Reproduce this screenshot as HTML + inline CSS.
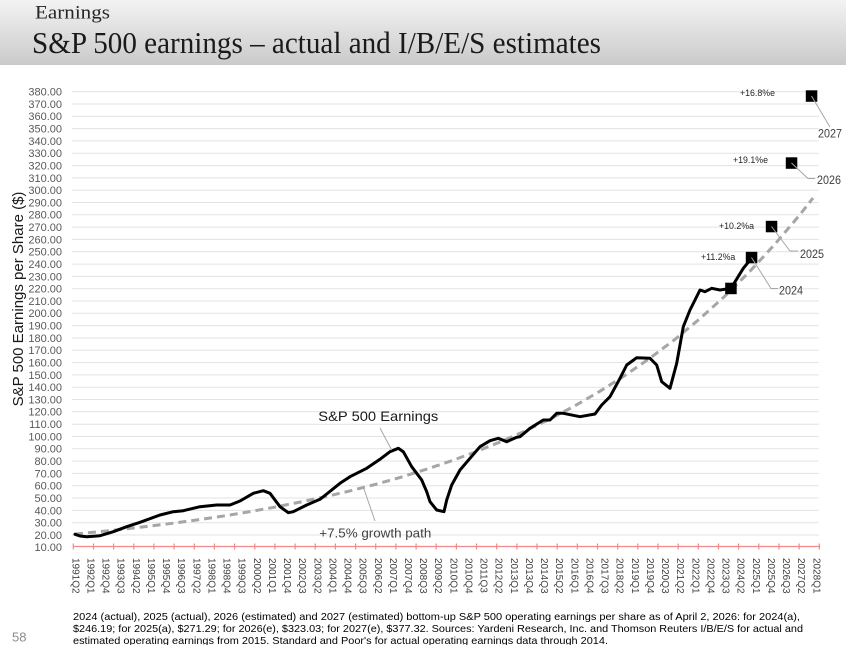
<!DOCTYPE html>
<html><head><meta charset="utf-8"><style>
html,body{margin:0;padding:0;background:#fff;}
svg{display:block;}
</style></head><body>
<svg width="846" height="645" viewBox="0 0 846 645" xmlns="http://www.w3.org/2000/svg">
<defs>
<linearGradient id="hg" x1="0" y1="0" x2="0" y2="1">
<stop offset="0" stop-color="#f3f3f3"/>
<stop offset="1" stop-color="#cacaca"/>
</linearGradient>
</defs>
<rect x="0" y="0" width="846" height="645" fill="#fff"/>
<rect x="0" y="0" width="846" height="65" fill="url(#hg)"/>
<text x="35" y="18.5" font-family="Liberation Serif, serif" font-size="19" fill="#262626" textLength="75" lengthAdjust="spacingAndGlyphs">Earnings</text>
<text x="32" y="53" font-family="Liberation Serif, serif" font-size="31" fill="#1a1a1a" textLength="569" lengthAdjust="spacingAndGlyphs">S&amp;P 500 earnings – actual and I/B/E/S estimates</text>

<!-- gridlines -->
<g stroke="#e3e3e3" stroke-width="1">
<line x1="72" x2="819" y1="535" y2="535"/>
<line x1="72" x2="819" y1="522.7" y2="522.7"/>
<line x1="72" x2="819" y1="510.4" y2="510.4"/>
<line x1="72" x2="819" y1="498" y2="498"/>
<line x1="72" x2="819" y1="485.7" y2="485.7"/>
<line x1="72" x2="819" y1="473.4" y2="473.4"/>
<line x1="72" x2="819" y1="461.1" y2="461.1"/>
<line x1="72" x2="819" y1="448.8" y2="448.8"/>
<line x1="72" x2="819" y1="436.5" y2="436.5"/>
<line x1="72" x2="819" y1="424.2" y2="424.2"/>
<line x1="72" x2="819" y1="411.8" y2="411.8"/>
<line x1="72" x2="819" y1="399.5" y2="399.5"/>
<line x1="72" x2="819" y1="387.2" y2="387.2"/>
<line x1="72" x2="819" y1="374.9" y2="374.9"/>
<line x1="72" x2="819" y1="362.6" y2="362.6"/>
<line x1="72" x2="819" y1="350.3" y2="350.3"/>
<line x1="72" x2="819" y1="338" y2="338"/>
<line x1="72" x2="819" y1="325.6" y2="325.6"/>
<line x1="72" x2="819" y1="313.3" y2="313.3"/>
<line x1="72" x2="819" y1="301" y2="301"/>
<line x1="72" x2="819" y1="288.7" y2="288.7"/>
<line x1="72" x2="819" y1="276.4" y2="276.4"/>
<line x1="72" x2="819" y1="264.1" y2="264.1"/>
<line x1="72" x2="819" y1="251.8" y2="251.8"/>
<line x1="72" x2="819" y1="239.4" y2="239.4"/>
<line x1="72" x2="819" y1="227.1" y2="227.1"/>
<line x1="72" x2="819" y1="214.8" y2="214.8"/>
<line x1="72" x2="819" y1="202.5" y2="202.5"/>
<line x1="72" x2="819" y1="190.2" y2="190.2"/>
<line x1="72" x2="819" y1="177.9" y2="177.9"/>
<line x1="72" x2="819" y1="165.6" y2="165.6"/>
<line x1="72" x2="819" y1="153.2" y2="153.2"/>
<line x1="72" x2="819" y1="140.9" y2="140.9"/>
<line x1="72" x2="819" y1="128.6" y2="128.6"/>
<line x1="72" x2="819" y1="116.3" y2="116.3"/>
<line x1="72" x2="819" y1="104" y2="104"/>
<line x1="72" x2="819" y1="91.7" y2="91.7"/>
</g>

<!-- y tick labels -->
<g font-family="Liberation Sans, sans-serif" font-size="11" fill="#595959" text-anchor="end">
<text x="62" y="551.2">10.00</text>
<text x="62" y="538.9">20.00</text>
<text x="62" y="526.6">30.00</text>
<text x="62" y="514.3">40.00</text>
<text x="62" y="501.9">50.00</text>
<text x="62" y="489.6">60.00</text>
<text x="62" y="477.3">70.00</text>
<text x="62" y="465">80.00</text>
<text x="62" y="452.7">90.00</text>
<text x="62" y="440.4">100.00</text>
<text x="62" y="428.1">110.00</text>
<text x="62" y="415.7">120.00</text>
<text x="62" y="403.4">130.00</text>
<text x="62" y="391.1">140.00</text>
<text x="62" y="378.8">150.00</text>
<text x="62" y="366.5">160.00</text>
<text x="62" y="354.2">170.00</text>
<text x="62" y="341.9">180.00</text>
<text x="62" y="329.5">190.00</text>
<text x="62" y="317.2">200.00</text>
<text x="62" y="304.9">210.00</text>
<text x="62" y="292.6">220.00</text>
<text x="62" y="280.3">230.00</text>
<text x="62" y="268">240.00</text>
<text x="62" y="255.7">250.00</text>
<text x="62" y="243.3">260.00</text>
<text x="62" y="231">270.00</text>
<text x="62" y="218.7">280.00</text>
<text x="62" y="206.4">290.00</text>
<text x="62" y="194.1">300.00</text>
<text x="62" y="181.8">310.00</text>
<text x="62" y="169.5">320.00</text>
<text x="62" y="157.1">330.00</text>
<text x="62" y="144.8">340.00</text>
<text x="62" y="132.5">350.00</text>
<text x="62" y="120.2">360.00</text>
<text x="62" y="107.9">370.00</text>
<text x="62" y="95.6">380.00</text>
</g>

<!-- y axis title -->
<text transform="translate(23,299) rotate(-90)" x="0" y="0" text-anchor="middle" font-family="Liberation Sans, sans-serif" font-size="15" fill="#1a1a1a">S&amp;P 500 Earnings per Share  ($)</text>

<!-- x axis -->
<line x1="73" x2="820" y1="546.5" y2="546.5" stroke="#f08a8a" stroke-width="1.3"/>
<path stroke="#f08a8a" stroke-width="1.2" fill="none" d="M73.3,543.5v6M93.5,543.5v6M113.6,543.5v6M133.8,543.5v6M153.9,543.5v6M174.1,543.5v6M194.3,543.5v6M214.4,543.5v6M234.6,543.5v6M254.8,543.5v6M274.9,543.5v6M295.1,543.5v6M315.2,543.5v6M335.4,543.5v6M355.6,543.5v6M375.7,543.5v6M395.9,543.5v6M416.1,543.5v6M436.2,543.5v6M456.4,543.5v6M476.5,543.5v6M496.7,543.5v6M516.9,543.5v6M537,543.5v6M557.2,543.5v6M577.3,543.5v6M597.5,543.5v6M617.7,543.5v6M637.8,543.5v6M658,543.5v6M678.2,543.5v6M698.3,543.5v6M718.5,543.5v6M738.6,543.5v6M758.8,543.5v6M779,543.5v6M799.1,543.5v6M819.3,543.5v6"/>

<!-- x labels -->
<g font-family="Liberation Sans, sans-serif" font-size="10" fill="#404040">
<text transform="translate(75.8,558) rotate(90)" dy="0.35em">1991Q2</text>
<text transform="translate(90.9,558) rotate(90)" dy="0.35em">1992Q1</text>
<text transform="translate(106.1,558) rotate(90)" dy="0.35em">1992Q4</text>
<text transform="translate(121.2,558) rotate(90)" dy="0.35em">1993Q3</text>
<text transform="translate(136.3,558) rotate(90)" dy="0.35em">1994Q2</text>
<text transform="translate(151.4,558) rotate(90)" dy="0.35em">1995Q1</text>
<text transform="translate(166.5,558) rotate(90)" dy="0.35em">1995Q4</text>
<text transform="translate(181.7,558) rotate(90)" dy="0.35em">1996Q3</text>
<text transform="translate(196.8,558) rotate(90)" dy="0.35em">1997Q2</text>
<text transform="translate(211.9,558) rotate(90)" dy="0.35em">1998Q1</text>
<text transform="translate(227,558) rotate(90)" dy="0.35em">1998Q4</text>
<text transform="translate(242.2,558) rotate(90)" dy="0.35em">1999Q3</text>
<text transform="translate(257.3,558) rotate(90)" dy="0.35em">2000Q2</text>
<text transform="translate(272.4,558) rotate(90)" dy="0.35em">2001Q1</text>
<text transform="translate(287.5,558) rotate(90)" dy="0.35em">2001Q4</text>
<text transform="translate(302.6,558) rotate(90)" dy="0.35em">2002Q3</text>
<text transform="translate(317.8,558) rotate(90)" dy="0.35em">2003Q2</text>
<text transform="translate(332.9,558) rotate(90)" dy="0.35em">2004Q1</text>
<text transform="translate(348,558) rotate(90)" dy="0.35em">2004Q4</text>
<text transform="translate(363.1,558) rotate(90)" dy="0.35em">2005Q3</text>
<text transform="translate(378.3,558) rotate(90)" dy="0.35em">2006Q2</text>
<text transform="translate(393.4,558) rotate(90)" dy="0.35em">2007Q1</text>
<text transform="translate(408.5,558) rotate(90)" dy="0.35em">2007Q4</text>
<text transform="translate(423.6,558) rotate(90)" dy="0.35em">2008Q3</text>
<text transform="translate(438.7,558) rotate(90)" dy="0.35em">2009Q2</text>
<text transform="translate(453.9,558) rotate(90)" dy="0.35em">2010Q1</text>
<text transform="translate(469,558) rotate(90)" dy="0.35em">2010Q4</text>
<text transform="translate(484.1,558) rotate(90)" dy="0.35em">2011Q3</text>
<text transform="translate(499.2,558) rotate(90)" dy="0.35em">2012Q2</text>
<text transform="translate(514.4,558) rotate(90)" dy="0.35em">2013Q1</text>
<text transform="translate(529.5,558) rotate(90)" dy="0.35em">2013Q4</text>
<text transform="translate(544.6,558) rotate(90)" dy="0.35em">2014Q3</text>
<text transform="translate(559.7,558) rotate(90)" dy="0.35em">2015Q2</text>
<text transform="translate(574.8,558) rotate(90)" dy="0.35em">2016Q1</text>
<text transform="translate(590,558) rotate(90)" dy="0.35em">2016Q4</text>
<text transform="translate(605.1,558) rotate(90)" dy="0.35em">2017Q3</text>
<text transform="translate(620.2,558) rotate(90)" dy="0.35em">2018Q2</text>
<text transform="translate(635.3,558) rotate(90)" dy="0.35em">2019Q1</text>
<text transform="translate(650.5,558) rotate(90)" dy="0.35em">2019Q4</text>
<text transform="translate(665.6,558) rotate(90)" dy="0.35em">2020Q3</text>
<text transform="translate(680.7,558) rotate(90)" dy="0.35em">2021Q2</text>
<text transform="translate(695.8,558) rotate(90)" dy="0.35em">2022Q1</text>
<text transform="translate(710.9,558) rotate(90)" dy="0.35em">2022Q4</text>
<text transform="translate(726.1,558) rotate(90)" dy="0.35em">2023Q3</text>
<text transform="translate(741.2,558) rotate(90)" dy="0.35em">2024Q2</text>
<text transform="translate(756.3,558) rotate(90)" dy="0.35em">2025Q1</text>
<text transform="translate(771.4,558) rotate(90)" dy="0.35em">2025Q4</text>
<text transform="translate(786.6,558) rotate(90)" dy="0.35em">2026Q3</text>
<text transform="translate(801.7,558) rotate(90)" dy="0.35em">2027Q2</text>
<text transform="translate(816.8,558) rotate(90)" dy="0.35em">2028Q1</text>
</g>

<!-- growth path dashed -->
<polyline fill="none" stroke="#a6a6a6" stroke-width="3" stroke-dasharray="8,5" points="75,534 100,531.6 125,529 150,526.1 175,523 200,519.5 225,515.8 250,511.6 275,507.1 300,502.1 325,496.8 350,490.9 375,484.5 400,477.5 425,469.7 450,461.3 475,452.1 500,442 525,431 550,419 575,405.7 600,391.2 625,375.4 650,358.1 675,339.3 700,318.6 725,296 750,271.2 775,244.1 800,214.6 813,198"/>

<!-- earnings line -->
<polyline fill="none" stroke="#000" stroke-width="3" stroke-linejoin="round" stroke-linecap="round" points="75,534.3 80,536 86.7,536.7 100,535.7 113.3,531.7 126.7,526.7 140,522.3 160,515 173.3,511.7 183.3,510.7 200,506.7 216.7,505 230,505 240,501 253.3,493.3 263.3,490.7 270,493.3 280,506.7 288.3,512.7 293.3,511.7 306.7,505 320,499.3 326.7,494 340,483.3 350,476.7 366.7,468.3 380,459.3 390,451.7 398.3,448.3 403.3,451.7 411.7,466.7 421.7,480 426.7,491.7 430,501.7 436.7,510 444,511.7 446.7,500 451.7,485 460,470 470,458.3 480,446.7 490,440.7 498.3,438.3 506.7,441.7 516.7,437.3 520,436.7 530,428.3 543.3,420 550,420 556.7,413.3 563.3,413.3 580,416.7 595,414 601.7,405 610,396.7 620,378.3 626.7,365 636.7,357.7 650,358.3 656.7,365 661.7,381.7 670,388.3 676.7,363.3 683.3,326.7 690,310 700,290 705,291.7 711.7,288.3 720,290 731,288.3 743.3,268.3 751.7,258"/>

<!-- squares -->
<g fill="#000">
<rect x="725.2" y="282.7" width="11.5" height="11.5"/>
<rect x="745.8" y="251.8" width="11.5" height="11.5"/>
<rect x="765.8" y="220.8" width="11.5" height="11.5"/>
<rect x="785.8" y="157.3" width="11.5" height="11.5"/>
<rect x="805.8" y="90.3" width="11.5" height="11.5"/>
</g>

<!-- leaders -->
<g fill="none" stroke="#a6a6a6" stroke-width="1">
<path d="M751.5,257.5 L771,288.5 L778,288.5"/>
<path d="M771.5,226.5 L790,251 L798,251"/>
<path d="M791.5,163 L808,178.5 L815,178.5"/>
<path d="M811.5,96 L830,127"/>
<path d="M380,428 L391.7,450"/>
<path d="M375,521 L363.3,487"/>
</g>

<!-- year labels -->
<g font-family="Liberation Sans, sans-serif" font-size="12" fill="#404040">
<text x="779" y="294.3" textLength="24" lengthAdjust="spacingAndGlyphs">2024</text>
<text x="800" y="258" textLength="24" lengthAdjust="spacingAndGlyphs">2025</text>
<text x="817" y="184" textLength="24" lengthAdjust="spacingAndGlyphs">2026</text>
<text x="818" y="137.5" textLength="24" lengthAdjust="spacingAndGlyphs">2027</text>
</g>
<g font-family="Liberation Sans, sans-serif" font-size="8.8" fill="#262626">
<text x="740" y="95.8">+16.8%e</text>
<text x="733" y="163">+19.1%e</text>
<text x="719" y="228.8">+10.2%a</text>
<text x="701" y="259.8">+11.2%a</text>
</g>

<!-- annotations -->
<text x="318.3" y="421" font-family="Liberation Sans, sans-serif" font-size="14" fill="#1a1a1a" textLength="120" lengthAdjust="spacingAndGlyphs">S&amp;P 500 Earnings</text>
<text x="319.3" y="537.5" font-family="Liberation Sans, sans-serif" font-size="13" fill="#404040" textLength="112" lengthAdjust="spacingAndGlyphs">+7.5% growth path</text>

<!-- footer -->
<text x="12" y="641.5" font-family="Liberation Sans, sans-serif" font-size="13" fill="#8c8c8c">58</text>
<g font-family="Liberation Sans, sans-serif" font-size="10.5" fill="#000">
<text x="73" y="619.8" textLength="727" lengthAdjust="spacingAndGlyphs">2024 (actual), 2025 (actual), 2026 (estimated) and 2027 (estimated) bottom-up S&amp;P 500 operating earnings per share as of April 2, 2026: for 2024(a),</text>
<text x="73" y="631.9" textLength="730" lengthAdjust="spacingAndGlyphs">$246.19; for 2025(a), $271.29; for 2026(e), $323.03; for 2027(e), $377.32. Sources: Yardeni Research, Inc. and Thomson Reuters I/B/E/S for actual and</text>
<text x="73" y="643.8" textLength="535" lengthAdjust="spacingAndGlyphs">estimated operating earnings from 2015. Standard and Poor's for actual operating earnings data through 2014.</text>
</g>
</svg>
</body></html>
